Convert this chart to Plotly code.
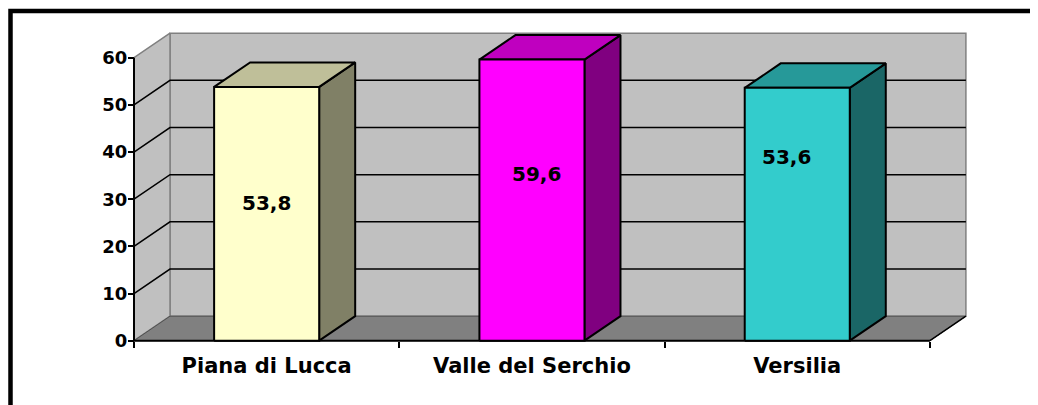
import plotly.graph_objects as go

# ---------------- data ----------------
categories = ["Piana di Lucca", "Valle del Serchio", "Versilia"]
values = [53.8, 59.6, 53.6]
value_labels = ["53,8", "59,6", "53,6"]
y_ticks = [0, 10, 20, 30, 40, 50, 60]

# ---------------- styles ----------------
front_colors = ["#FFFFCC", "#FF00FF", "#33CCCC"]
top_colors = ["#BFBF99", "#BF00BF", "#269999"]
side_colors = ["#808066", "#800080", "#1A6666"]
WALL = "#C0C0C0"
FLOOR = "#808080"
EDGE = "#808080"
FONT = "DejaVu Sans"

# label placement: x offset from category centre, y in value units
label_dx = [0.0, 0.018, -0.039]
label_y = [29.2, 35.4, 38.9]

# ---------------- geometry (pixel scale of the reference) ----------------
OFF = 8.0       # page body margin of the browser
W, H = int(1038 - OFF), int(405 - OFF)   # figure fits the window without overflow
PXU = 265.3     # px per category unit
PYU = 4.717     # px per value unit
X0PX = 134.0 - OFF    # figure pixel column of the front axis
Y0PX = 340.7 - OFF    # figure pixel row of value 0
L, R, T, B = 115, 54, 16, 47
pw, ph = W - L - R, H - T - B
xmin = -0.5 - (X0PX - L) / PXU
xmax = xmin + pw / PXU
ymin = -((H - B) - Y0PX) / PYU
ymax = ymin + ph / PYU

DX = 36.0 / PXU      # depth offset (x)
DY = 24.5 / PYU      # depth offset (y)
BW = 0.396           # bar width (category units)
YTOP = y_ticks[-1]
n = len(categories)
xl, xr = -0.5, n - 0.5

fig = go.Figure()


def poly(xs, ys, fill, line_color, line_width):
    fig.add_trace(go.Scatter(
        x=list(xs) + [xs[0]], y=list(ys) + [ys[0]],
        mode="lines", fill="toself", fillcolor=fill,
        line=dict(color=line_color, width=line_width),
        hoverinfo="skip", showlegend=False))


def seg(xs, ys, color, width):
    fig.add_trace(go.Scatter(
        x=xs, y=ys, mode="lines", line=dict(color=color, width=width),
        hoverinfo="skip", showlegend=False))


# back wall
poly([xl + DX, xr + DX, xr + DX, xl + DX], [DY, DY, YTOP + DY, YTOP + DY], WALL, EDGE, 1.5)
# left wall
poly([xl, xl + DX, xl + DX, xl], [0, DY, YTOP + DY, YTOP], WALL, EDGE, 1.5)
# floor
poly([xl, xr, xr + DX, xl + DX], [0, 0, DY, DY], FLOOR, "#505050", 1)

# gridlines (left wall diagonal + back wall horizontal)
gx, gy = [], []
for v in y_ticks[1:-1]:
    gx += [xl, xl + DX, xr + DX, None]
    gy += [v, v + DY, v + DY, None]
seg(gx, gy, "black", 1.5)

# front axis lines
seg([xl, xl], [0, YTOP], "black", 2)
seg([xl, xr], [0, 0], "black", 2)
seg([xr, xr + DX], [0, DY], "black", 1.5)

# bars
for i, v in enumerate(values):
    a, b = i - BW / 2, i + BW / 2
    poly([b, b + DX, b + DX, b], [0, DY, v + DY, v], side_colors[i], "black", 2)
    poly([a, b, b + DX, a + DX], [v, v, v + DY, v + DY], top_colors[i], "black", 2)
    poly([a, b, b, a], [0, 0, v, v], front_colors[i], "black", 2)

# value labels
for i, t in enumerate(value_labels):
    fig.add_annotation(x=i + label_dx[i], y=label_y[i], xref="x", yref="y",
                       text=t, showarrow=False,
                       font=dict(family=FONT, size=20, color="black", weight="bold"))


# outer frame (partially outside the visible window, as in the reference)
def px2paper_x(p):
    return (p - L) / pw


def px2paper_y(q):
    return ((H - B) - q) / ph


fig.add_shape(type="rect", xref="paper", yref="paper",
              x0=px2paper_x(10.5 - OFF), x1=px2paper_x(W + 30),
              y0=px2paper_y(H + 30), y1=px2paper_y(11 - OFF),
              line=dict(color="black", width=4.5), fillcolor="rgba(0,0,0,0)")

fig.update_layout(
    template="none",
    width=W, height=H,
    margin=dict(l=L, r=R, t=T, b=B, pad=0),
    paper_bgcolor="white", plot_bgcolor="white",
    showlegend=False,
    xaxis=dict(
        range=[xmin, xmax], anchor="free",
        position=(0 - ymin) / (ymax - ymin),
        tickmode="array", tickvals=list(range(n)), ticktext=categories,
        ticks="", ticklabelstandoff=10,
        showline=False, showgrid=False, zeroline=False, automargin=False,
        tickfont=dict(family=FONT, size=21, color="black", weight="bold"),
        minor=dict(tickmode="array", tickvals=[xl + k for k in range(n + 1)],
                   ticks="outside", ticklen=6, tickwidth=2, tickcolor="black",
                   showgrid=False),
        fixedrange=True,
    ),
    yaxis=dict(
        range=[ymin, ymax], anchor="free",
        position=(xl - xmin) / (xmax - xmin),
        tickmode="array", tickvals=y_ticks,
        ticks="outside", ticklen=6, tickwidth=2, tickcolor="black",
        ticklabelstandoff=-3,
        showline=False, showgrid=False, zeroline=False, automargin=False,
        tickfont=dict(family=FONT, size=18, color="black", weight="bold"),
        fixedrange=True,
    ),
)

fig.write_html("out.html")
